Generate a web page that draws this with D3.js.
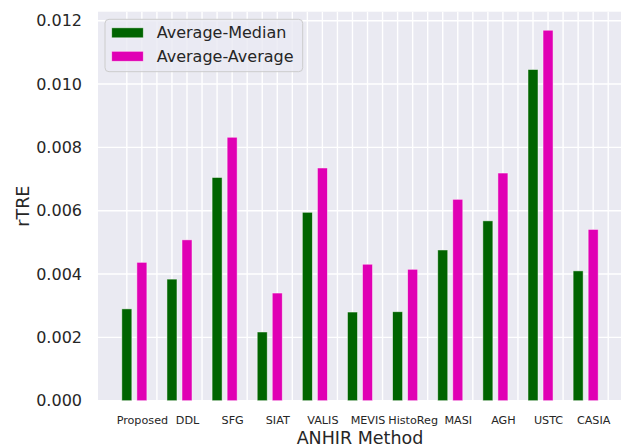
<!DOCTYPE html>
<html>
<head>
<meta charset="utf-8">
<script src="https://cdn.jsdelivr.net/npm/d3@7"></script>
<style>
  html, body { margin: 0; padding: 0; background: #fff; }
  svg { display: block; font-family: "DejaVu Sans", sans-serif; }
</style>
</head>
<body>
<svg id="chart" width="621" height="448"></svg>
<script>
// ---- data ----
const methods = ["Proposed", "DDL", "SFG", "SIAT", "VALIS", "MEVIS", "HistoReg", "MASI", "AGH", "USTC", "CASIA"];
const averageMedian  = [0.00290, 0.00384, 0.00705, 0.00217, 0.00595, 0.00280, 0.00281, 0.00476, 0.00568, 0.01046, 0.00410];
const averageAverage = [0.00437, 0.00508, 0.00832, 0.00340, 0.00735, 0.00431, 0.00415, 0.00636, 0.00719, 0.01170, 0.00541];
const seriesNames = ["Average-Median", "Average-Average"];
const seriesColors = ["#006400", "#e000b4"];
const yTicks = [0, 0.002, 0.004, 0.006, 0.008, 0.010, 0.012];
const xLabel = "ANHIR Method";
const yLabel = "rTRE";

// ---- layout ----
const svg = d3.select("#chart");
const plot = { left: 98, right: 622, top: 11.7, bottom: 400.7 };
const slotsPerGroup = 3;
const barW = 2 / 3; // in slot units
const nSlots = methods.length * slotsPerGroup;
const firstEdge = -barW / 2;
const lastEdge = (methods.length - 1) * slotsPerGroup + 1 + barW / 2;
const margin = 0.05 * (lastEdge - firstEdge);

const x = d3.scaleLinear().domain([firstEdge - margin, lastEdge + margin]).range([plot.left, plot.right]);
const yMax = d3.max(averageAverage.concat(averageMedian)) * 1.05;
const y = d3.scaleLinear().domain([0, yMax]).range([plot.bottom, plot.top]);

// background
svg.append("rect").attr("x", plot.left).attr("y", plot.top)
  .attr("width", plot.right - plot.left).attr("height", plot.bottom - plot.top)
  .attr("fill", "#eaeaf2");

// grid
const grid = svg.append("g");
grid.selectAll("line.h").data(yTicks).join("line")
  .attr("x1", plot.left).attr("x2", plot.right)
  .attr("y1", d => y(d)).attr("y2", d => y(d))
  .attr("stroke", "#fff").attr("stroke-width", 1.4);
grid.selectAll("line.v").data(d3.range(nSlots)).join("line")
  .attr("x1", d => x(d)).attr("x2", d => x(d))
  .attr("y1", plot.top).attr("y2", plot.bottom)
  .attr("stroke", "#fff").attr("stroke-width", 1.4);

// bars
const series = [averageMedian, averageAverage];
series.forEach((vals, s) => {
  svg.append("g").selectAll("rect").data(vals).join("rect")
    .attr("x", (d, i) => x(i * slotsPerGroup + s - barW / 2))
    .attr("width", (d, i) => x(i * slotsPerGroup + s + barW / 2) - x(i * slotsPerGroup + s - barW / 2))
    .attr("y", d => y(d))
    .attr("height", d => y(0) - y(d))
    .attr("fill", seriesColors[s])
    .attr("stroke", "#fff").attr("stroke-opacity", 0.6).attr("stroke-width", 0.8);
});

// y axis labels
const yAxis = d3.axisLeft(y).tickValues(yTicks).tickFormat(d3.format(".3f")).tickSize(0).tickPadding(16);
const yg = svg.append("g").attr("transform", `translate(${plot.left},0)`).call(yAxis);
yg.select(".domain").remove();
yg.selectAll("text").attr("font-size", 16).attr("fill", "#262626")
  .attr("font-family", "DejaVu Sans, sans-serif");

// x axis labels
const xAxis = d3.axisBottom(x)
  .tickValues(methods.map((m, i) => i * slotsPerGroup + 1))
  .tickFormat((d, i) => methods[i]).tickSize(0).tickPadding(15);
const xg = svg.append("g").attr("transform", `translate(0,${plot.bottom})`).call(xAxis);
xg.select(".domain").remove();
xg.selectAll("text").attr("font-size", 11.2).attr("fill", "#262626")
  .attr("font-family", "DejaVu Sans, sans-serif");

// axis titles
svg.append("text").attr("x", (plot.left + plot.right) / 2).attr("y", 443.5)
  .attr("text-anchor", "middle").attr("font-size", 17.5).attr("fill", "#262626").text(xLabel);
svg.append("text").attr("transform", `translate(29,${(plot.top + plot.bottom) / 2}) rotate(-90)`)
  .attr("text-anchor", "middle").attr("font-size", 17.5).attr("fill", "#262626").text(yLabel);

// legend
const lg = svg.append("g").attr("transform", "translate(105,19.3)");
lg.append("rect").attr("width", 197.7).attr("height", 52.4).attr("rx", 4)
  .attr("fill", "#eaeaf2").attr("fill-opacity", 0.8)
  .attr("stroke", "#cccccc").attr("stroke-width", 1);
seriesNames.forEach((name, s) => {
  const cy = 13.5 + s * 23.5;
  lg.append("rect").attr("x", 6.7).attr("y", cy - 5).attr("width", 31.6).attr("height", 10)
    .attr("fill", seriesColors[s]).attr("stroke", "#fff").attr("stroke-opacity", 0.6).attr("stroke-width", 0.8);
  lg.append("text").attr("x", 51.7).attr("y", cy).attr("dy", "0.35em")
    .attr("font-size", 16).attr("fill", "#262626").text(name);
});
</script>
</body>
</html>
